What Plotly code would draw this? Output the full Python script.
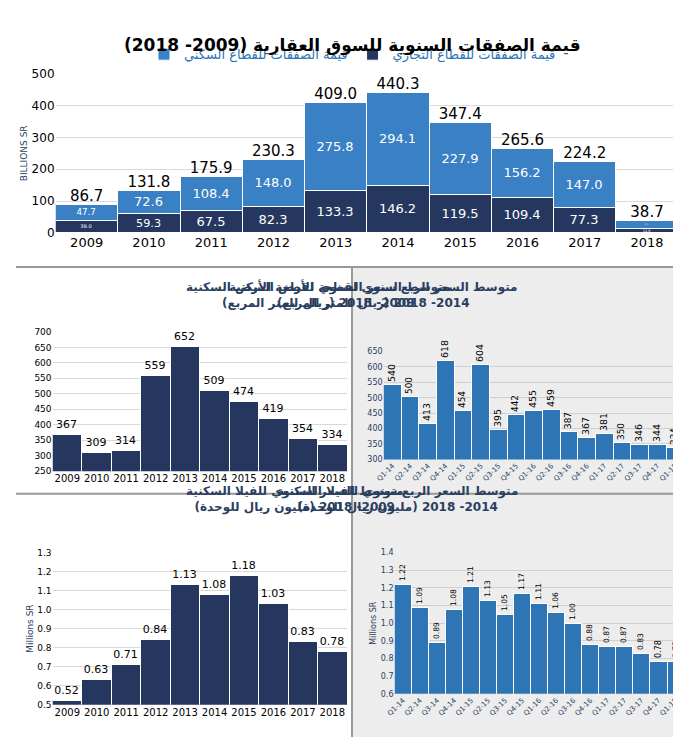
import plotly.graph_objects as go

years = ["2009","2010","2011","2012","2013","2014","2015","2016","2017","2018"]
residential = [47.7,72.6,108.4,148.0,275.8,294.1,227.9,156.2,147.0,27.1]
commercial = [39.0,59.3,67.5,82.3,133.3,146.2,119.5,109.4,77.3,11.6]
totals = [86.7,131.8,175.9,230.3,409.0,440.3,347.4,265.6,224.2,38.7]

land_annual = [367,309,314,559,652,509,474,419,354,334]
villa_annual = [0.52,0.63,0.71,0.84,1.13,1.08,1.18,1.03,0.83,0.78]

quarters = ["Q1-14","Q2-14","Q3-14","Q4-14","Q1-15","Q2-15","Q3-15","Q4-15","Q1-16","Q2-16",
            "Q3-16","Q4-16","Q1-17","Q2-17","Q3-17","Q4-17","Q1-18"]
land_q = [540,500,413,618,454,604,395,442,455,459,387,367,381,350,346,344,334]
villa_q = [1.22,1.09,0.89,1.08,1.21,1.13,1.05,1.17,1.11,1.06,1.00,0.88,0.87,0.87,0.83,0.78,0.78]

NAVY = "#25375f"
BLUE = "#2e75b6"
LBLUE = "#3a80c4"
F = "DejaVu Sans"
H, W = 737, 681
def yf(px): return 1 - px / H
def xf(px): return px / W

fig = go.Figure()
fig.add_bar(x=years, y=commercial, name="قيمة الصفقات للقطاع التجاري", marker=dict(color=NAVY, line=dict(color="white", width=1)),
            text=[f"{v:.1f}" for v in commercial], textposition="inside", insidetextanchor="middle",
            textfont=dict(color="white", size=13, family=F), xaxis="x", yaxis="y")
fig.add_bar(x=years, y=residential, name="قيمة الصفقات للقطاع السكني", marker=dict(color=LBLUE, line=dict(color="white", width=1)),
            text=[f"{v:.1f}" for v in residential], textposition="inside", insidetextanchor="middle",
            textfont=dict(color="white", size=13, family=F), xaxis="x", yaxis="y")
fig.add_scatter(x=years, y=totals, mode="text", text=[f"{v:.1f}" for v in totals], textposition="top center",
                textfont=dict(size=15, color="black", family=F), showlegend=False, xaxis="x", yaxis="y", cliponaxis=False)

fig.add_bar(x=years, y=land_annual, marker=dict(color=NAVY, line=dict(color="white", width=1)), showlegend=False,
            text=[str(v) for v in land_annual], textposition="outside", textfont=dict(size=11, color="black", family=F),
            xaxis="x2", yaxis="y2", cliponaxis=False)
fig.add_bar(x=quarters, y=land_q, marker=dict(color=BLUE, line=dict(color="white", width=1)), showlegend=False,
            text=[str(v) for v in land_q], textposition="outside", textangle=-90, textfont=dict(size=11, color="black", family=F),
            xaxis="x3", yaxis="y3", cliponaxis=False)
fig.add_bar(x=years, y=villa_annual, marker=dict(color=NAVY, line=dict(color="white", width=1)), showlegend=False,
            text=[f"{v:.2f}" for v in villa_annual], textposition="outside", textfont=dict(size=11, color="black", family=F),
            xaxis="x4", yaxis="y4", cliponaxis=False)
fig.add_bar(x=quarters, y=villa_q, marker=dict(color=BLUE, line=dict(color="white", width=1)), showlegend=False,
            text=[f"{v:.2f}" for v in villa_q], textposition="outside", textangle=-90, textfont=dict(size=11, color="black", family=F),
            xaxis="x5", yaxis="y5", cliponaxis=False)

grid = "#d9d9d9"
ax = dict(showgrid=False, ticks="", tickfont=dict(size=10, family=F, color="black"), fixedrange=True)
ay = dict(showgrid=True, gridcolor=grid, tickfont=dict(size=9, family=F, color="black"), zeroline=False)

fig.update_layout(
    width=W, height=H, margin=dict(l=0, r=0, t=0, b=0), paper_bgcolor="white", plot_bgcolor="rgba(0,0,0,0)",
    barmode="stack", bargap=0, font=dict(family=F),
    legend=dict(orientation="h", x=0.5, xanchor="center", y=yf(40), yanchor="middle", traceorder="reversed",
                font=dict(size=13, family=F, color=BLUE), bgcolor="rgba(0,0,0,0)"),
    xaxis=dict(ax, domain=[xf(40), xf(670)], anchor="y", tickfont=dict(size=13, family=F, color="black")),
    yaxis=dict(ay, domain=[yf(222), yf(60)], range=[0, 500], dtick=100, tickfont=dict(size=12, family=F, color="black"),
               title=dict(text="BILLIONS SR", font=dict(size=9, family=F), standoff=2)),
    xaxis2=dict(ax, domain=[xf(37), xf(335)], anchor="y2"),
    yaxis2=dict(ay, domain=[yf(465), yf(323)], range=[250, 700], dtick=50, anchor="x2"),
    xaxis3=dict(ax, domain=[xf(372), xf(676)], anchor="y3", tickangle=-45, tickfont=dict(size=7, family=F)),
    yaxis3=dict(ay, domain=[yf(453), yf(343)], range=[300, 650], dtick=50, anchor="x3", tickfont=dict(size=8, family=F), gridcolor="#cfcfcf"),
    xaxis4=dict(ax, domain=[xf(37), xf(335)], anchor="y4"),
    yaxis4=dict(ay, domain=[yf(703), yf(548)], range=[0.5, 1.3], dtick=0.1, tickformat=".1f", anchor="x4",
                title=dict(text="Millions SR", font=dict(size=9, family=F), standoff=2)),
    xaxis5=dict(ax, domain=[xf(383), xf(676)], anchor="y5", tickangle=-45, tickfont=dict(size=7, family=F)),
    yaxis5=dict(ay, domain=[yf(692), yf(548)], range=[0.6, 1.4], dtick=0.1, tickformat=".1f", anchor="x5",
                tickfont=dict(size=8, family=F), gridcolor="#cfcfcf",
                title=dict(text="Millions SR", font=dict(size=8, family=F), standoff=2)),
    shapes=[
        dict(type="rect", xref="paper", yref="paper", x0=xf(341), x1=1, y0=0, y1=yf(258), fillcolor="#ededed", line_width=0, layer="below"),
        dict(type="line", xref="paper", yref="paper", x0=0, x1=1, y0=yf(257), y1=yf(257), line=dict(color="#999", width=2)),
        dict(type="line", xref="paper", yref="paper", x0=xf(340), x1=xf(340), y0=0, y1=yf(257), line=dict(color="#999", width=2)),
        dict(type="line", xref="paper", yref="paper", x0=0, x1=1, y0=yf(488), y1=yf(488), line=dict(color="#999", width=2)),
    ],
    annotations=[
        dict(text="<b>قيمة الصفقات السنوية للسوق العقارية (2009- 2018)</b>", x=0.5, y=yf(18), xref="paper", yref="paper",
             showarrow=False, font=dict(size=17, family=F, color="black")),
        dict(text="<b>متوسط السعر السنوي لقطعة الأرض السكنية<br>(ريال للمتر المربع) 2009- 2018</b>", x=xf(170), y=yf(285), xref="paper", yref="paper",
             showarrow=False, font=dict(size=12, family=F)),
        dict(text="<b>متوسط السعر الربع سنوي لقطعة الأرض السكنية<br>(ريال للمتر المربع) 2014- 2018</b>", x=xf(510), y=yf(285), xref="paper", yref="paper",
             showarrow=False, font=dict(size=12, family=F)),
        dict(text="<b>متوسط السعر السنوي للفيلا السكنية<br>(مليون ريال للوحدة) 2009- 2018</b>", x=xf(170), y=yf(512), xref="paper", yref="paper",
             showarrow=False, font=dict(size=12, family=F)),
        dict(text="<b>متوسط السعر الربع سنوي للفيلا السكنية<br>(مليون ريال للوحدة) 2014- 2018</b>", x=xf(510), y=yf(512), xref="paper", yref="paper",
             showarrow=False, font=dict(size=12, family=F)),
    ],
)
fig.write_html("out.html")
